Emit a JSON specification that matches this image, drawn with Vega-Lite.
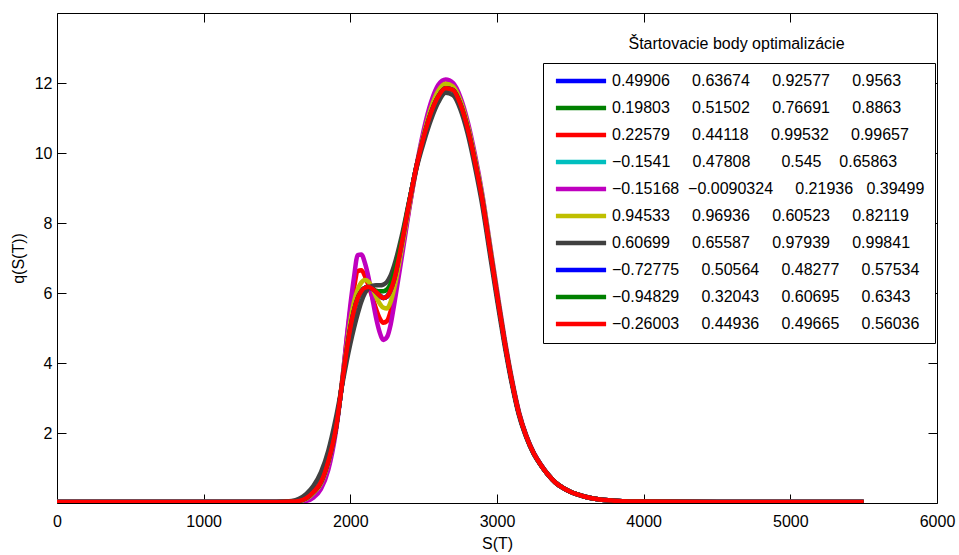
{
"$schema": "https://vega.github.io/schema/vega-lite/v6.json",
"width": 880, "height": 490,
"autosize": {"type": "none"},
"padding": {"left": 57, "top": 13, "right": 22, "bottom": 52},
"background": "white",
"config": {
 "view": {"stroke": null},
 "font": "Liberation Sans",
 "axis": {"tickSize": -9, "tickColor": "black", "tickWidth": 1, "domainColor": "black", "domainWidth": 1, "grid": false, "labelFontSize": 16, "titleFontSize": 16, "titleFontWeight": "normal", "labelColor": "black", "titleColor": "black", "labelFont": "Liberation Sans", "titleFont": "Liberation Sans", "labelFlush": false, "labelOverlap": false}
},
"title": {"text": "x 10\u207b\u2074", "anchor": "start", "frame": "group", "offset": 8, "baseline": "alphabetic", "fontSize": 16, "fontWeight": "normal", "color": "black", "font": "Liberation Sans"},
"data": {"values": [
{"s":"s01","x":0,"y":0.03},{"s":"s01","x":1500,"y":0.03},{"s":"s01","x":1600,"y":0.04},{"s":"s01","x":1650,"y":0.06},{"s":"s01","x":1700,"y":0.14},{"s":"s01","x":1750,"y":0.32},{"s":"s01","x":1800,"y":0.6},{"s":"s01","x":1850,"y":1.2},{"s":"s01","x":1900,"y":2.1},{"s":"s01","x":1950,"y":3.6},{"s":"s01","x":1975,"y":4.35},{"s":"s01","x":2000,"y":5.0},{"s":"s01","x":2025,"y":5.5},{"s":"s01","x":2050,"y":5.85},{"s":"s01","x":2075,"y":6.05},{"s":"s01","x":2100,"y":6.15},{"s":"s01","x":2125,"y":6.17},{"s":"s01","x":2150,"y":6.12},{"s":"s01","x":2175,"y":6.03},{"s":"s01","x":2200,"y":5.93},{"s":"s01","x":2225,"y":5.86},{"s":"s01","x":2250,"y":5.9},{"s":"s01","x":2275,"y":6.08},{"s":"s01","x":2300,"y":6.4},{"s":"s01","x":2350,"y":7.4},{"s":"s01","x":2400,"y":8.55},{"s":"s01","x":2450,"y":9.6},{"s":"s01","x":2500,"y":10.45},{"s":"s01","x":2550,"y":11.15},{"s":"s01","x":2600,"y":11.62},{"s":"s01","x":2650,"y":11.85},{"s":"s01","x":2700,"y":11.8},{"s":"s01","x":2750,"y":11.4},{"s":"s01","x":2800,"y":10.7},{"s":"s01","x":2850,"y":9.75},{"s":"s01","x":2900,"y":8.65},{"s":"s01","x":2950,"y":7.3},{"s":"s01","x":3000,"y":5.95},{"s":"s01","x":3050,"y":4.65},{"s":"s01","x":3100,"y":3.5},{"s":"s01","x":3150,"y":2.55},{"s":"s01","x":3200,"y":1.9},{"s":"s01","x":3250,"y":1.42},{"s":"s01","x":3300,"y":1.08},{"s":"s01","x":3350,"y":0.8},{"s":"s01","x":3400,"y":0.58},{"s":"s01","x":3450,"y":0.43},{"s":"s01","x":3500,"y":0.32},{"s":"s01","x":3600,"y":0.18},{"s":"s01","x":3700,"y":0.1},{"s":"s01","x":3800,"y":0.065},{"s":"s01","x":3900,"y":0.045},{"s":"s01","x":4000,"y":0.04},{"s":"s01","x":4500,"y":0.03},{"s":"s01","x":5500,"y":0.03},
{"s":"s02","x":0,"y":0.03},{"s":"s02","x":1500,"y":0.03},{"s":"s02","x":1600,"y":0.04},{"s":"s02","x":1650,"y":0.06},{"s":"s02","x":1700,"y":0.14},{"s":"s02","x":1750,"y":0.32},{"s":"s02","x":1800,"y":0.6},{"s":"s02","x":1850,"y":1.2},{"s":"s02","x":1900,"y":2.1},{"s":"s02","x":1950,"y":3.6},{"s":"s02","x":1975,"y":4.35},{"s":"s02","x":2000,"y":5.0},{"s":"s02","x":2025,"y":5.5},{"s":"s02","x":2050,"y":5.85},{"s":"s02","x":2075,"y":6.05},{"s":"s02","x":2100,"y":6.15},{"s":"s02","x":2125,"y":6.17},{"s":"s02","x":2150,"y":6.12},{"s":"s02","x":2175,"y":6.03},{"s":"s02","x":2200,"y":5.93},{"s":"s02","x":2225,"y":5.86},{"s":"s02","x":2250,"y":5.9},{"s":"s02","x":2275,"y":6.08},{"s":"s02","x":2300,"y":6.4},{"s":"s02","x":2350,"y":7.4},{"s":"s02","x":2400,"y":8.55},{"s":"s02","x":2450,"y":9.6},{"s":"s02","x":2500,"y":10.45},{"s":"s02","x":2550,"y":11.15},{"s":"s02","x":2600,"y":11.62},{"s":"s02","x":2650,"y":11.85},{"s":"s02","x":2700,"y":11.8},{"s":"s02","x":2750,"y":11.4},{"s":"s02","x":2800,"y":10.7},{"s":"s02","x":2850,"y":9.75},{"s":"s02","x":2900,"y":8.65},{"s":"s02","x":2950,"y":7.3},{"s":"s02","x":3000,"y":5.95},{"s":"s02","x":3050,"y":4.65},{"s":"s02","x":3100,"y":3.5},{"s":"s02","x":3150,"y":2.55},{"s":"s02","x":3200,"y":1.9},{"s":"s02","x":3250,"y":1.42},{"s":"s02","x":3300,"y":1.08},{"s":"s02","x":3350,"y":0.8},{"s":"s02","x":3400,"y":0.58},{"s":"s02","x":3450,"y":0.43},{"s":"s02","x":3500,"y":0.32},{"s":"s02","x":3600,"y":0.18},{"s":"s02","x":3700,"y":0.1},{"s":"s02","x":3800,"y":0.065},{"s":"s02","x":3900,"y":0.045},{"s":"s02","x":4000,"y":0.04},{"s":"s02","x":4500,"y":0.03},{"s":"s02","x":5500,"y":0.03},
{"s":"s03","x":0,"y":0.03},{"s":"s03","x":1500,"y":0.03},{"s":"s03","x":1600,"y":0.04},{"s":"s03","x":1650,"y":0.05},{"s":"s03","x":1700,"y":0.12},{"s":"s03","x":1750,"y":0.28},{"s":"s03","x":1800,"y":0.55},{"s":"s03","x":1850,"y":1.12},{"s":"s03","x":1900,"y":2.1},{"s":"s03","x":1950,"y":3.7},{"s":"s03","x":1975,"y":4.65},{"s":"s03","x":2000,"y":5.5},{"s":"s03","x":2025,"y":6.15},{"s":"s03","x":2050,"y":6.62},{"s":"s03","x":2075,"y":6.65},{"s":"s03","x":2100,"y":6.48},{"s":"s03","x":2125,"y":6.2},{"s":"s03","x":2150,"y":5.88},{"s":"s03","x":2175,"y":5.55},{"s":"s03","x":2200,"y":5.28},{"s":"s03","x":2225,"y":5.15},{"s":"s03","x":2250,"y":5.2},{"s":"s03","x":2275,"y":5.48},{"s":"s03","x":2300,"y":5.95},{"s":"s03","x":2350,"y":7.15},{"s":"s03","x":2400,"y":8.4},{"s":"s03","x":2450,"y":9.55},{"s":"s03","x":2500,"y":10.45},{"s":"s03","x":2550,"y":11.2},{"s":"s03","x":2600,"y":11.68},{"s":"s03","x":2650,"y":11.9},{"s":"s03","x":2700,"y":11.8},{"s":"s03","x":2750,"y":11.4},{"s":"s03","x":2800,"y":10.7},{"s":"s03","x":2850,"y":9.75},{"s":"s03","x":2900,"y":8.65},{"s":"s03","x":2950,"y":7.3},{"s":"s03","x":3000,"y":5.95},{"s":"s03","x":3050,"y":4.65},{"s":"s03","x":3100,"y":3.5},{"s":"s03","x":3150,"y":2.55},{"s":"s03","x":3200,"y":1.9},{"s":"s03","x":3250,"y":1.42},{"s":"s03","x":3300,"y":1.08},{"s":"s03","x":3350,"y":0.8},{"s":"s03","x":3400,"y":0.58},{"s":"s03","x":3450,"y":0.43},{"s":"s03","x":3500,"y":0.32},{"s":"s03","x":3600,"y":0.18},{"s":"s03","x":3700,"y":0.1},{"s":"s03","x":3800,"y":0.065},{"s":"s03","x":3900,"y":0.045},{"s":"s03","x":4000,"y":0.04},{"s":"s03","x":4500,"y":0.03},{"s":"s03","x":5500,"y":0.03},
{"s":"s04","x":0,"y":0.03},{"s":"s04","x":1500,"y":0.03},{"s":"s04","x":1600,"y":0.04},{"s":"s04","x":1650,"y":0.06},{"s":"s04","x":1700,"y":0.14},{"s":"s04","x":1750,"y":0.32},{"s":"s04","x":1800,"y":0.6},{"s":"s04","x":1850,"y":1.2},{"s":"s04","x":1900,"y":2.1},{"s":"s04","x":1950,"y":3.6},{"s":"s04","x":1975,"y":4.35},{"s":"s04","x":2000,"y":5.0},{"s":"s04","x":2025,"y":5.5},{"s":"s04","x":2050,"y":5.85},{"s":"s04","x":2075,"y":6.05},{"s":"s04","x":2100,"y":6.15},{"s":"s04","x":2125,"y":6.17},{"s":"s04","x":2150,"y":6.12},{"s":"s04","x":2175,"y":6.03},{"s":"s04","x":2200,"y":5.93},{"s":"s04","x":2225,"y":5.86},{"s":"s04","x":2250,"y":5.9},{"s":"s04","x":2275,"y":6.08},{"s":"s04","x":2300,"y":6.4},{"s":"s04","x":2350,"y":7.4},{"s":"s04","x":2400,"y":8.55},{"s":"s04","x":2450,"y":9.6},{"s":"s04","x":2500,"y":10.45},{"s":"s04","x":2550,"y":11.15},{"s":"s04","x":2600,"y":11.62},{"s":"s04","x":2650,"y":11.85},{"s":"s04","x":2700,"y":11.8},{"s":"s04","x":2750,"y":11.4},{"s":"s04","x":2800,"y":10.7},{"s":"s04","x":2850,"y":9.75},{"s":"s04","x":2900,"y":8.65},{"s":"s04","x":2950,"y":7.3},{"s":"s04","x":3000,"y":5.95},{"s":"s04","x":3050,"y":4.65},{"s":"s04","x":3100,"y":3.5},{"s":"s04","x":3150,"y":2.55},{"s":"s04","x":3200,"y":1.9},{"s":"s04","x":3250,"y":1.42},{"s":"s04","x":3300,"y":1.08},{"s":"s04","x":3350,"y":0.8},{"s":"s04","x":3400,"y":0.58},{"s":"s04","x":3450,"y":0.43},{"s":"s04","x":3500,"y":0.32},{"s":"s04","x":3600,"y":0.18},{"s":"s04","x":3700,"y":0.1},{"s":"s04","x":3800,"y":0.065},{"s":"s04","x":3900,"y":0.045},{"s":"s04","x":4000,"y":0.04},{"s":"s04","x":4500,"y":0.03},{"s":"s04","x":5500,"y":0.03},
{"s":"s05","x":0,"y":0.03},{"s":"s05","x":1500,"y":0.03},{"s":"s05","x":1600,"y":0.03},{"s":"s05","x":1650,"y":0.035},{"s":"s05","x":1700,"y":0.06},{"s":"s05","x":1750,"y":0.16},{"s":"s05","x":1800,"y":0.4},{"s":"s05","x":1850,"y":0.95},{"s":"s05","x":1900,"y":2.0},{"s":"s05","x":1950,"y":3.7},{"s":"s05","x":1975,"y":4.7},{"s":"s05","x":2000,"y":5.65},{"s":"s05","x":2025,"y":6.45},{"s":"s05","x":2050,"y":7.08},{"s":"s05","x":2075,"y":7.1},{"s":"s05","x":2100,"y":6.85},{"s":"s05","x":2125,"y":6.42},{"s":"s05","x":2150,"y":5.85},{"s":"s05","x":2175,"y":5.3},{"s":"s05","x":2200,"y":4.88},{"s":"s05","x":2225,"y":4.66},{"s":"s05","x":2250,"y":4.74},{"s":"s05","x":2275,"y":5.1},{"s":"s05","x":2300,"y":5.7},{"s":"s05","x":2350,"y":7.0},{"s":"s05","x":2400,"y":8.35},{"s":"s05","x":2450,"y":9.6},{"s":"s05","x":2500,"y":10.65},{"s":"s05","x":2550,"y":11.45},{"s":"s05","x":2600,"y":11.95},{"s":"s05","x":2650,"y":12.1},{"s":"s05","x":2700,"y":12.0},{"s":"s05","x":2750,"y":11.6},{"s":"s05","x":2800,"y":10.9},{"s":"s05","x":2850,"y":9.95},{"s":"s05","x":2900,"y":8.82},{"s":"s05","x":2950,"y":7.45},{"s":"s05","x":3000,"y":6.08},{"s":"s05","x":3050,"y":4.75},{"s":"s05","x":3100,"y":3.58},{"s":"s05","x":3150,"y":2.6},{"s":"s05","x":3200,"y":1.93},{"s":"s05","x":3250,"y":1.44},{"s":"s05","x":3300,"y":1.09},{"s":"s05","x":3350,"y":0.8},{"s":"s05","x":3400,"y":0.58},{"s":"s05","x":3450,"y":0.43},{"s":"s05","x":3500,"y":0.32},{"s":"s05","x":3600,"y":0.18},{"s":"s05","x":3700,"y":0.1},{"s":"s05","x":3800,"y":0.065},{"s":"s05","x":3900,"y":0.045},{"s":"s05","x":4000,"y":0.04},{"s":"s05","x":4500,"y":0.03},{"s":"s05","x":5500,"y":0.03},
{"s":"s06","x":0,"y":0.03},{"s":"s06","x":1500,"y":0.03},{"s":"s06","x":1600,"y":0.04},{"s":"s06","x":1650,"y":0.05},{"s":"s06","x":1700,"y":0.12},{"s":"s06","x":1750,"y":0.29},{"s":"s06","x":1800,"y":0.56},{"s":"s06","x":1850,"y":1.15},{"s":"s06","x":1900,"y":2.1},{"s":"s06","x":1950,"y":3.65},{"s":"s06","x":1975,"y":4.45},{"s":"s06","x":2000,"y":5.2},{"s":"s06","x":2025,"y":5.75},{"s":"s06","x":2050,"y":6.1},{"s":"s06","x":2075,"y":6.3},{"s":"s06","x":2100,"y":6.37},{"s":"s06","x":2125,"y":6.32},{"s":"s06","x":2150,"y":6.15},{"s":"s06","x":2175,"y":5.9},{"s":"s06","x":2200,"y":5.7},{"s":"s06","x":2225,"y":5.58},{"s":"s06","x":2250,"y":5.56},{"s":"s06","x":2275,"y":5.75},{"s":"s06","x":2300,"y":6.15},{"s":"s06","x":2350,"y":7.25},{"s":"s06","x":2400,"y":8.45},{"s":"s06","x":2450,"y":9.6},{"s":"s06","x":2500,"y":10.52},{"s":"s06","x":2550,"y":11.28},{"s":"s06","x":2600,"y":11.78},{"s":"s06","x":2650,"y":11.98},{"s":"s06","x":2700,"y":11.9},{"s":"s06","x":2750,"y":11.5},{"s":"s06","x":2800,"y":10.8},{"s":"s06","x":2850,"y":9.85},{"s":"s06","x":2900,"y":8.75},{"s":"s06","x":2950,"y":7.4},{"s":"s06","x":3000,"y":6.02},{"s":"s06","x":3050,"y":4.7},{"s":"s06","x":3100,"y":3.54},{"s":"s06","x":3150,"y":2.57},{"s":"s06","x":3200,"y":1.91},{"s":"s06","x":3250,"y":1.42},{"s":"s06","x":3300,"y":1.08},{"s":"s06","x":3350,"y":0.8},{"s":"s06","x":3400,"y":0.58},{"s":"s06","x":3450,"y":0.43},{"s":"s06","x":3500,"y":0.32},{"s":"s06","x":3600,"y":0.18},{"s":"s06","x":3700,"y":0.1},{"s":"s06","x":3800,"y":0.065},{"s":"s06","x":3900,"y":0.045},{"s":"s06","x":4000,"y":0.04},{"s":"s06","x":4500,"y":0.03},{"s":"s06","x":5500,"y":0.03},
{"s":"s07","x":0,"y":0.03},{"s":"s07","x":1500,"y":0.03},{"s":"s07","x":1600,"y":0.06},{"s":"s07","x":1650,"y":0.12},{"s":"s07","x":1700,"y":0.26},{"s":"s07","x":1750,"y":0.5},{"s":"s07","x":1800,"y":0.88},{"s":"s07","x":1850,"y":1.5},{"s":"s07","x":1900,"y":2.4},{"s":"s07","x":1950,"y":3.5},{"s":"s07","x":1975,"y":4.05},{"s":"s07","x":2000,"y":4.55},{"s":"s07","x":2025,"y":5.0},{"s":"s07","x":2050,"y":5.4},{"s":"s07","x":2075,"y":5.75},{"s":"s07","x":2100,"y":6.0},{"s":"s07","x":2125,"y":6.15},{"s":"s07","x":2150,"y":6.2},{"s":"s07","x":2175,"y":6.22},{"s":"s07","x":2200,"y":6.22},{"s":"s07","x":2225,"y":6.24},{"s":"s07","x":2250,"y":6.32},{"s":"s07","x":2275,"y":6.5},{"s":"s07","x":2300,"y":6.8},{"s":"s07","x":2350,"y":7.62},{"s":"s07","x":2400,"y":8.6},{"s":"s07","x":2450,"y":9.55},{"s":"s07","x":2500,"y":10.3},{"s":"s07","x":2550,"y":10.95},{"s":"s07","x":2600,"y":11.45},{"s":"s07","x":2650,"y":11.72},{"s":"s07","x":2700,"y":11.65},{"s":"s07","x":2750,"y":11.25},{"s":"s07","x":2800,"y":10.55},{"s":"s07","x":2850,"y":9.6},{"s":"s07","x":2900,"y":8.5},{"s":"s07","x":2950,"y":7.15},{"s":"s07","x":3000,"y":5.82},{"s":"s07","x":3050,"y":4.55},{"s":"s07","x":3100,"y":3.43},{"s":"s07","x":3150,"y":2.5},{"s":"s07","x":3200,"y":1.87},{"s":"s07","x":3250,"y":1.4},{"s":"s07","x":3300,"y":1.07},{"s":"s07","x":3350,"y":0.8},{"s":"s07","x":3400,"y":0.58},{"s":"s07","x":3450,"y":0.43},{"s":"s07","x":3500,"y":0.32},{"s":"s07","x":3600,"y":0.18},{"s":"s07","x":3700,"y":0.1},{"s":"s07","x":3800,"y":0.065},{"s":"s07","x":3900,"y":0.045},{"s":"s07","x":4000,"y":0.04},{"s":"s07","x":4500,"y":0.03},{"s":"s07","x":5500,"y":0.03},
{"s":"s08","x":0,"y":0.03},{"s":"s08","x":1500,"y":0.03},{"s":"s08","x":1600,"y":0.04},{"s":"s08","x":1650,"y":0.06},{"s":"s08","x":1700,"y":0.14},{"s":"s08","x":1750,"y":0.32},{"s":"s08","x":1800,"y":0.6},{"s":"s08","x":1850,"y":1.2},{"s":"s08","x":1900,"y":2.1},{"s":"s08","x":1950,"y":3.6},{"s":"s08","x":1975,"y":4.35},{"s":"s08","x":2000,"y":5.0},{"s":"s08","x":2025,"y":5.5},{"s":"s08","x":2050,"y":5.85},{"s":"s08","x":2075,"y":6.05},{"s":"s08","x":2100,"y":6.15},{"s":"s08","x":2125,"y":6.17},{"s":"s08","x":2150,"y":6.12},{"s":"s08","x":2175,"y":6.03},{"s":"s08","x":2200,"y":5.93},{"s":"s08","x":2225,"y":5.86},{"s":"s08","x":2250,"y":5.9},{"s":"s08","x":2275,"y":6.08},{"s":"s08","x":2300,"y":6.4},{"s":"s08","x":2350,"y":7.4},{"s":"s08","x":2400,"y":8.55},{"s":"s08","x":2450,"y":9.6},{"s":"s08","x":2500,"y":10.45},{"s":"s08","x":2550,"y":11.15},{"s":"s08","x":2600,"y":11.62},{"s":"s08","x":2650,"y":11.85},{"s":"s08","x":2700,"y":11.8},{"s":"s08","x":2750,"y":11.4},{"s":"s08","x":2800,"y":10.7},{"s":"s08","x":2850,"y":9.75},{"s":"s08","x":2900,"y":8.65},{"s":"s08","x":2950,"y":7.3},{"s":"s08","x":3000,"y":5.95},{"s":"s08","x":3050,"y":4.65},{"s":"s08","x":3100,"y":3.5},{"s":"s08","x":3150,"y":2.55},{"s":"s08","x":3200,"y":1.9},{"s":"s08","x":3250,"y":1.42},{"s":"s08","x":3300,"y":1.08},{"s":"s08","x":3350,"y":0.8},{"s":"s08","x":3400,"y":0.58},{"s":"s08","x":3450,"y":0.43},{"s":"s08","x":3500,"y":0.32},{"s":"s08","x":3600,"y":0.18},{"s":"s08","x":3700,"y":0.1},{"s":"s08","x":3800,"y":0.065},{"s":"s08","x":3900,"y":0.045},{"s":"s08","x":4000,"y":0.04},{"s":"s08","x":4500,"y":0.03},{"s":"s08","x":5500,"y":0.03},
{"s":"s09","x":0,"y":0.03},{"s":"s09","x":1500,"y":0.03},{"s":"s09","x":1600,"y":0.04},{"s":"s09","x":1650,"y":0.06},{"s":"s09","x":1700,"y":0.14},{"s":"s09","x":1750,"y":0.32},{"s":"s09","x":1800,"y":0.6},{"s":"s09","x":1850,"y":1.2},{"s":"s09","x":1900,"y":2.1},{"s":"s09","x":1950,"y":3.6},{"s":"s09","x":1975,"y":4.35},{"s":"s09","x":2000,"y":5.0},{"s":"s09","x":2025,"y":5.5},{"s":"s09","x":2050,"y":5.85},{"s":"s09","x":2075,"y":6.05},{"s":"s09","x":2100,"y":6.15},{"s":"s09","x":2125,"y":6.17},{"s":"s09","x":2150,"y":6.12},{"s":"s09","x":2175,"y":6.07},{"s":"s09","x":2200,"y":6.05},{"s":"s09","x":2225,"y":6.05},{"s":"s09","x":2250,"y":6.1},{"s":"s09","x":2275,"y":6.27},{"s":"s09","x":2300,"y":6.58},{"s":"s09","x":2350,"y":7.5},{"s":"s09","x":2400,"y":8.58},{"s":"s09","x":2450,"y":9.6},{"s":"s09","x":2500,"y":10.45},{"s":"s09","x":2550,"y":11.15},{"s":"s09","x":2600,"y":11.62},{"s":"s09","x":2650,"y":11.85},{"s":"s09","x":2700,"y":11.8},{"s":"s09","x":2750,"y":11.4},{"s":"s09","x":2800,"y":10.7},{"s":"s09","x":2850,"y":9.75},{"s":"s09","x":2900,"y":8.65},{"s":"s09","x":2950,"y":7.3},{"s":"s09","x":3000,"y":5.95},{"s":"s09","x":3050,"y":4.65},{"s":"s09","x":3100,"y":3.5},{"s":"s09","x":3150,"y":2.55},{"s":"s09","x":3200,"y":1.9},{"s":"s09","x":3250,"y":1.42},{"s":"s09","x":3300,"y":1.08},{"s":"s09","x":3350,"y":0.8},{"s":"s09","x":3400,"y":0.58},{"s":"s09","x":3450,"y":0.43},{"s":"s09","x":3500,"y":0.32},{"s":"s09","x":3600,"y":0.18},{"s":"s09","x":3700,"y":0.1},{"s":"s09","x":3800,"y":0.065},{"s":"s09","x":3900,"y":0.045},{"s":"s09","x":4000,"y":0.04},{"s":"s09","x":4500,"y":0.03},{"s":"s09","x":5500,"y":0.03},
{"s":"s10","x":0,"y":0.03},{"s":"s10","x":1500,"y":0.03},{"s":"s10","x":1600,"y":0.04},{"s":"s10","x":1650,"y":0.06},{"s":"s10","x":1700,"y":0.14},{"s":"s10","x":1750,"y":0.32},{"s":"s10","x":1800,"y":0.6},{"s":"s10","x":1850,"y":1.2},{"s":"s10","x":1900,"y":2.1},{"s":"s10","x":1950,"y":3.6},{"s":"s10","x":1975,"y":4.35},{"s":"s10","x":2000,"y":5.0},{"s":"s10","x":2025,"y":5.5},{"s":"s10","x":2050,"y":5.85},{"s":"s10","x":2075,"y":6.05},{"s":"s10","x":2100,"y":6.15},{"s":"s10","x":2125,"y":6.17},{"s":"s10","x":2150,"y":6.12},{"s":"s10","x":2175,"y":6.03},{"s":"s10","x":2200,"y":5.93},{"s":"s10","x":2225,"y":5.86},{"s":"s10","x":2250,"y":5.9},{"s":"s10","x":2275,"y":6.08},{"s":"s10","x":2300,"y":6.4},{"s":"s10","x":2350,"y":7.4},{"s":"s10","x":2400,"y":8.55},{"s":"s10","x":2450,"y":9.6},{"s":"s10","x":2500,"y":10.45},{"s":"s10","x":2550,"y":11.15},{"s":"s10","x":2600,"y":11.62},{"s":"s10","x":2650,"y":11.85},{"s":"s10","x":2700,"y":11.8},{"s":"s10","x":2750,"y":11.4},{"s":"s10","x":2800,"y":10.7},{"s":"s10","x":2850,"y":9.75},{"s":"s10","x":2900,"y":8.65},{"s":"s10","x":2950,"y":7.3},{"s":"s10","x":3000,"y":5.95},{"s":"s10","x":3050,"y":4.65},{"s":"s10","x":3100,"y":3.5},{"s":"s10","x":3150,"y":2.55},{"s":"s10","x":3200,"y":1.9},{"s":"s10","x":3250,"y":1.42},{"s":"s10","x":3300,"y":1.08},{"s":"s10","x":3350,"y":0.8},{"s":"s10","x":3400,"y":0.58},{"s":"s10","x":3450,"y":0.43},{"s":"s10","x":3500,"y":0.32},{"s":"s10","x":3600,"y":0.18},{"s":"s10","x":3700,"y":0.1},{"s":"s10","x":3800,"y":0.065},{"s":"s10","x":3900,"y":0.045},{"s":"s10","x":4000,"y":0.04},{"s":"s10","x":4500,"y":0.03},{"s":"s10","x":5500,"y":0.03}
]},
"layer": [
 {"mark": {"type": "line", "strokeWidth": 4.5, "interpolate": "monotone", "clip": true},
  "encoding": {
   "x": {"field": "x", "type": "quantitative", "scale": {"domain": [0, 6000], "nice": false, "zero": false},
         "axis": {"orient": "bottom", "values": [0,1000,2000,3000,4000,5000,6000], "format": "d", "title": "S(T)", "labelPadding": 19, "titlePadding": 6}},
   "y": {"field": "y", "type": "quantitative", "scale": {"domain": [0, 14], "nice": false},
         "axis": {"orient": "left", "values": [2,4,6,8,10,12], "title": "q(S(T))", "labelPadding": 14, "titlePadding": 8}},
   "color": {"field": "s", "type": "nominal",
     "scale": {"domain": ["s01","s02","s03","s04","s05","s06","s07","s08","s09","s10"],
               "range": ["#0000ff","#008000","#ff0000","#00bfbf","#bf00bf","#bfbf00","#404040","#0000ff","#008000","#ff0000"]},
     "legend": {"orient": "none", "legendX": 486, "legendY": 50, "title": null, "padding": 10,
       "strokeColor": "black", "fillColor": "white",
       "symbolType": "M-6,0H6", "symbolSize": 70, "symbolStrokeWidth": 4.5, "symbolOffset": 20,
       "labelOffset": 23, "rowPadding": 9, "labelFont": "Liberation Sans", "labelFontSize": 16, "labelColor": "black", "labelLimit": 1000,
       "labelExpr": "datum.label=='s01'?'\u00a00.49906\u00a0\u00a0\u00a0\u00a0\u00a00.63674\u00a0\u00a0\u00a0\u00a0\u00a00.92577\u00a0\u00a0\u00a0\u00a0\u00a00.9563':datum.label=='s02'?'\u00a00.19803\u00a0\u00a0\u00a0\u00a0\u00a00.51502\u00a0\u00a0\u00a0\u00a0\u00a00.76691\u00a0\u00a0\u00a0\u00a0\u00a00.8863':datum.label=='s03'?'\u00a00.22579\u00a0\u00a0\u00a0\u00a0\u00a00.44118\u00a0\u00a0\u00a0\u00a0\u00a00.99532\u00a0\u00a0\u00a0\u00a0\u00a00.99657':datum.label=='s04'?'\u00a0\u22120.1541\u00a0\u00a0\u00a0\u00a0\u00a00.47808\u00a0\u00a0\u00a0\u00a0\u00a0\u00a0\u00a00.545\u00a0\u00a0\u00a0\u00a00.65863':datum.label=='s05'?'\u22120.15168\u00a0\u00a0\u22120.0090324\u00a0\u00a0\u00a0\u00a0\u00a00.21936\u00a0\u00a0\u00a00.39499':datum.label=='s06'?'\u00a00.94533\u00a0\u00a0\u00a0\u00a0\u00a00.96936\u00a0\u00a0\u00a0\u00a0\u00a00.60523\u00a0\u00a0\u00a0\u00a0\u00a00.82119':datum.label=='s07'?'\u00a00.60699\u00a0\u00a0\u00a0\u00a0\u00a00.65587\u00a0\u00a0\u00a0\u00a0\u00a00.97939\u00a0\u00a0\u00a0\u00a0\u00a00.99841':datum.label=='s08'?'\u22120.72775\u00a0\u00a0\u00a0\u00a0\u00a00.50564\u00a0\u00a0\u00a0\u00a0\u00a00.48277\u00a0\u00a0\u00a0\u00a0\u00a00.57534':datum.label=='s09'?'\u22120.94829\u00a0\u00a0\u00a0\u00a0\u00a00.32043\u00a0\u00a0\u00a0\u00a0\u00a00.60695\u00a0\u00a0\u00a0\u00a0\u00a00.6343':'\u22120.26003\u00a0\u00a0\u00a0\u00a0\u00a00.44936\u00a0\u00a0\u00a0\u00a0\u00a00.49665\u00a0\u00a0\u00a0\u00a0\u00a00.56036'"}}
  }},
 {"mark": {"type": "point", "opacity": 0, "size": 0},
  "encoding": {
   "x": {"field": "x", "type": "quantitative",
         "axis": {"orient": "top", "values": [0,1000,2000,3000,4000,5000,6000], "labels": false, "title": "Štartovacie body optimalizácie", "titleX": 679, "titleY": 30, "titleAlign": "center", "titleBaseline": "middle", "titleAngle": 0}},
   "y": {"field": "y", "type": "quantitative",
         "axis": {"orient": "right", "values": [2,4,6,8,10,12], "labels": false, "title": null}}
  }}
]
}
